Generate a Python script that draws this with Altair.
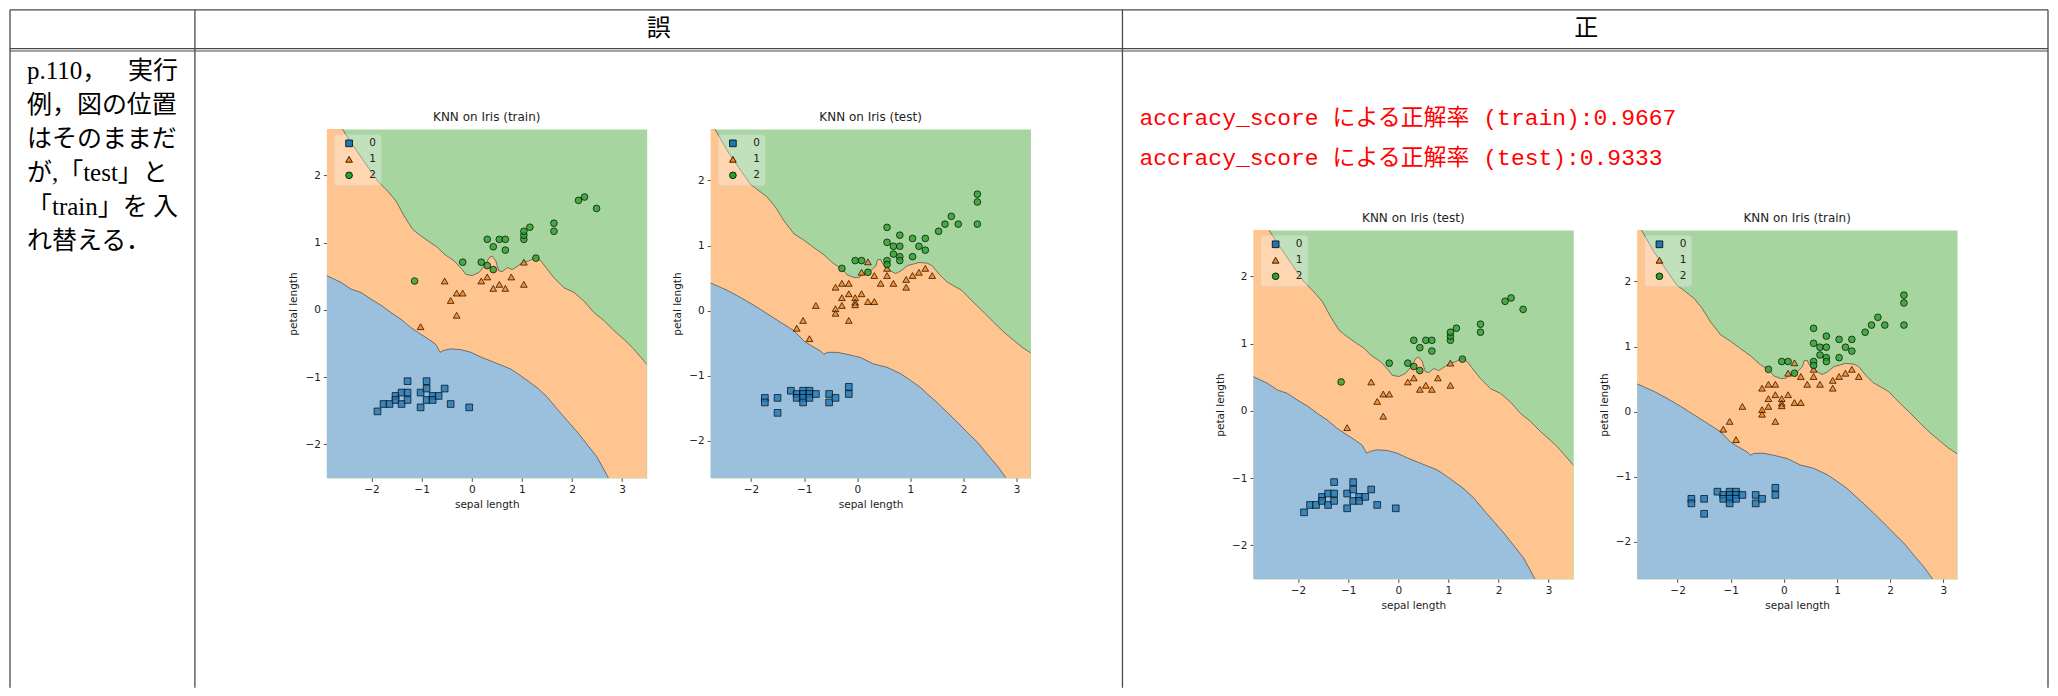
import altair as alt
import pandas as pd

# ---------------- text content ----------------
HEADERS = ["誤", "正"]
NOTE_LEFT = ["p.110，", "例，図の位置", "はそのままだ", "が,「test」と", "「train」を", "れ替える．"]
NOTE_RIGHT = ["実行", "", "", "", "入", ""]
SCORE_LINES = ["accracy_score による正解率 (train):0.9667",
               "accracy_score による正解率 (test):0.9333"]
PLOT_TITLES = ["KNN on Iris (train)", "KNN on Iris (test)",
               "KNN on Iris (test)", "KNN on Iris (train)"]
CLASSES = ["0", "1", "2"]
X_TICKS = [-2, -1, 0, 1, 2, 3]
Y_TICKS = [-2, -1, 0, 1, 2]

# ---------------- data set A (small set) ----------------
A0_X = [-1.88, -1.76, -1.64, -1.52, -1.52, -1.40, -1.40, -1.28, -1.28, -1.28, -1.02,
        -1.02, -0.90, -0.90, -0.90, -0.78, -0.78, -0.66, -0.54, -0.42, -0.05]
A0_Y = [-1.51, -1.40, -1.40, -1.28, -1.34, -1.23, -1.40, -1.06, -1.23, -1.34, -1.23,
        -1.45, -1.06, -1.17, -1.34, -1.28, -1.34, -1.28, -1.17, -1.40, -1.45]
A1_X = [-1.02, -0.54, -0.42, -0.30, -0.18, -0.30, 0.19, 0.31, 0.43, 0.55, 0.67, 0.79, 1.04, 1.04]
A1_Y = [-0.25, 0.43, 0.14, 0.25, 0.25, -0.08, 0.43, 0.49, 0.32, 0.38, 0.32, 0.49, 0.71, 0.38]
A2_X = [-1.14, -0.18, 0.19, 0.31, 0.43, 0.31, 0.43, 0.55, 0.67, 0.67, 1.04, 1.04, 1.04,
        1.16, 1.28, 1.64, 1.64, 2.13, 2.25, 2.49]
A2_Y = [0.43, 0.71, 0.71, 0.66, 0.60, 1.05, 0.94, 1.05, 1.05, 0.89, 1.05, 1.11, 1.17,
        1.23, 0.77, 1.29, 1.17, 1.63, 1.68, 1.51]
A_XDOM = [-2.89, 3.49]
A_YDOM = [-2.50, 2.69]
# decision boundaries (orange/green = B2, blue/orange = B1)
A_B2_X = [-2.95, -2.58, -2.38, -2.15, -1.88, -1.68, -1.51, -1.35, -1.18, -1.05, -0.88, -0.68,
          -0.55, -0.35, -0.19, -0.12, 0.01, 0.15, 0.28, 0.35, 0.41, 0.48, 0.54, 0.61, 0.71,
          0.81, 0.91, 1.01, 1.14, 1.28, 1.38, 1.51, 1.64, 1.84, 2.04, 2.24, 2.44, 2.64, 2.84,
          3.04, 3.23, 3.55]
A_B2_Y = [3.05, 2.69, 2.46, 2.21, 1.92, 1.77, 1.62, 1.40, 1.20, 1.12, 1.03, 0.93, 0.83, 0.73,
          0.60, 0.53, 0.51, 0.56, 0.68, 0.78, 0.80, 0.73, 0.58, 0.57, 0.63, 0.60, 0.65, 0.70,
          0.73, 0.78, 0.73, 0.60, 0.48, 0.33, 0.26, 0.13, -0.04, -0.16, -0.31, -0.44, -0.58,
          -0.86]
A_B1_X = [-2.95, -2.61, -2.41, -2.21, -2.01, -1.81, -1.61, -1.41, -1.22, -1.02, -0.85, -0.72,
          -0.63, -0.55, -0.42, -0.22, -0.02, 0.18, 0.38, 0.58, 0.78, 0.94, 1.11, 1.31, 1.51,
          1.71, 1.91, 2.11, 2.30, 2.50, 2.72, 3.00]
A_B1_Y = [0.53, 0.41, 0.31, 0.26, 0.16, 0.07, -0.04, -0.14, -0.26, -0.36, -0.44, -0.51, -0.63,
          -0.60, -0.58, -0.59, -0.63, -0.70, -0.76, -0.82, -0.88, -0.96, -1.05, -1.16, -1.30,
          -1.48, -1.65, -1.82, -2.00, -2.19, -2.49, -2.85]

# ---------------- data set B (large set) ----------------
B0_X = [-1.74, -1.74, -1.50, -1.50, -1.25, -1.14, -1.14, -1.02, -1.02, -1.02, -1.02, -0.90,
        -0.90, -0.90, -0.78, -0.53, -0.53, -0.41, -0.16, -0.16]
B0_Y = [-1.34, -1.41, -1.34, -1.57, -1.23, -1.28, -1.34, -1.23, -1.28, -1.34, -1.41, -1.23,
        -1.28, -1.34, -1.28, -1.28, -1.41, -1.34, -1.17, -1.28]
B1_X = [-1.14, -1.02, -0.90, -0.78, -0.41, -0.41, -0.41, -0.29, -0.29, -0.29, -0.16, -0.16,
        -0.16, -0.04, -0.04, -0.04, 0.08, 0.08, 0.20, 0.20, 0.32, 0.32, 0.44, 0.56, 0.56,
        0.68, 0.92, 0.92, 1.04, 1.16, 1.28, 1.41]
B1_Y = [-0.27, -0.15, -0.43, 0.08, 0.36, 0.03, -0.04, 0.42, 0.20, 0.08, 0.42, 0.26, -0.15,
        0.20, 0.13, 0.09, 0.26, 0.59, 0.75, 0.14, 0.54, 0.14, 0.42, 0.54, 0.65, 0.42, 0.48,
        0.36, 0.54, 0.59, 0.65, 0.54]
B2_X = [-0.29, -0.04, 0.08, 0.20, 0.56, 0.56, 0.56, 0.56, 0.68, 0.68, 0.80, 0.80, 0.80, 0.80,
        1.04, 1.04, 1.16, 1.28, 1.28, 1.53, 1.65, 1.77, 1.90, 2.26, 2.26, 2.26]
B2_Y = [0.65, 0.77, 0.77, 0.59, 1.28, 1.05, 0.77, 0.71, 0.99, 0.87, 1.16, 0.99, 0.83, 0.77,
        1.11, 0.83, 0.99, 1.11, 0.93, 1.22, 1.33, 1.45, 1.33, 1.79, 1.67, 1.33]
B_XDOM = [-2.76, 3.26]
B_YDOM = [-2.57, 2.79]
B_B2_X = [-2.82, -2.68, -2.44, -2.19, -2.01, -1.91, -1.69, -1.54, -1.38, -1.19, -1.00, -0.82,
          -0.63, -0.44, -0.28, -0.19, -0.06, 0.03, 0.13, 0.25, 0.35, 0.38, 0.44, 0.47, 0.63,
          0.72, 0.82, 0.94, 1.07, 1.16, 1.32, 1.41, 1.54, 1.69, 1.82, 1.97, 2.16, 2.35, 2.57,
          2.76, 2.95, 3.10, 3.30]
B_B2_Y = [2.95, 2.79, 2.45, 2.15, 1.94, 1.88, 1.74, 1.59, 1.38, 1.18, 1.08, 0.97, 0.86, 0.72,
          0.64, 0.55, 0.51, 0.51, 0.57, 0.61, 0.69, 0.78, 0.79, 0.73, 0.61, 0.57, 0.61, 0.69,
          0.72, 0.74, 0.73, 0.69, 0.56, 0.44, 0.38, 0.31, 0.15, 0.00, -0.18, -0.33, -0.46,
          -0.56, -0.67]
B_B1_X = [-2.80, -2.44, -2.19, -1.94, -1.69, -1.44, -1.19, -1.00, -0.82, -0.69, -0.63, -0.56,
          -0.38, -0.19, 0.06, 0.31, 0.56, 0.82, 1.00, 1.19, 1.32, 1.50, 1.69, 1.88, 2.07,
          2.26, 2.44, 2.63, 2.79, 3.00]
B_B1_Y = [0.44, 0.31, 0.20, 0.08, -0.05, -0.18, -0.31, -0.47, -0.56, -0.62, -0.67, -0.64,
          -0.64, -0.67, -0.72, -0.82, -0.87, -0.97, -1.07, -1.18, -1.28, -1.41, -1.56, -1.71,
          -1.87, -2.02, -2.20, -2.38, -2.56, -2.80]

# ---------------- styles ----------------
MARK_COLORS = ["#1f77b4", "#ff7f0e", "#2ca02c"]
MARK_SHAPES = ["square", "triangle-up", "circle"]
BG_BLUE = "#9bc0dd"
BG_ORANGE = "#ffc591"
BG_GREEN = "#a7d5a0"
EDGE = "#333333"
LINE = "#4a4a4a"
PLOT_W, PLOT_H = 320, 349

one = pd.DataFrame({"k": [0]})


def pts_df(xs_list, ys_list):
    rows = []
    for c, xs, ys in zip(CLASSES, xs_list, ys_list):
        for x, y in zip(xs, ys):
            rows.append({"x": x, "y": y, "cls": c})
    return pd.DataFrame(rows)


def make_plot(pts, b1x, b1y, b2x, b2y, xdom, ydom, title):
    xs = alt.Scale(domain=xdom, nice=False, zero=False)
    ys = alt.Scale(domain=ydom, nice=False, zero=False)
    X = alt.X("x:Q", scale=xs, axis=alt.Axis(values=X_TICKS, title="sepal length"))
    Y = alt.Y("y:Q", scale=ys, axis=alt.Axis(values=Y_TICKS, title="petal length"))
    b2 = pd.DataFrame({"x": b2x, "y": b2y})
    b1 = pd.DataFrame({"x": b1x, "y": b1y})
    orange = alt.Chart(b2).mark_area(color=BG_ORANGE, clip=True).encode(
        x=X, y=Y, y2=alt.datum(ydom[0]))
    blue = alt.Chart(b1).mark_area(color=BG_BLUE, clip=True).encode(
        x=X, y=Y, y2=alt.datum(ydom[0]))
    l2 = alt.Chart(b2).mark_line(color=EDGE, strokeWidth=0.6, clip=True).encode(x=X, y=Y)
    l1 = alt.Chart(b1).mark_line(color=EDGE, strokeWidth=0.6, clip=True).encode(x=X, y=Y)
    leg = alt.Legend(title=None, orient="none", legendX=7, legendY=5,
                     fillColor="rgba(255,255,255,0.3)", strokeColor="rgba(204,204,204,0.35)",
                     cornerRadius=3, padding=4, symbolOffset=6, rowPadding=5,
                     labelOffset=15, labelFont="DejaVu Sans", labelFontSize=10.5,
                     labelColor="#222", symbolSize=45, symbolStrokeWidth=0.8)
    points = alt.Chart(pts).mark_point(
        filled=True, size=45, opacity=1, fillOpacity=0.8, stroke="black",
        strokeWidth=0.8, strokeOpacity=0.85).encode(
        x=X, y=Y,
        fill=alt.Fill("cls:N", scale=alt.Scale(domain=CLASSES, range=MARK_COLORS), legend=leg),
        shape=alt.Shape("cls:N", scale=alt.Scale(domain=CLASSES, range=MARK_SHAPES), legend=leg),
    )
    return alt.layer(orange, blue, l2, l1, points).properties(
        width=PLOT_W, height=PLOT_H, title=title,
        view=alt.ViewBackground(fill=BG_GREEN, stroke="transparent"))


def spacer(w, h):
    # invisible, tiny mark kept well inside positive coordinates
    return alt.Chart(one).mark_point(opacity=0, size=1).encode(
        x=alt.value(4), y=alt.value(4)).properties(width=w, height=h)


def hline(y, x1, x2, w=1.3):
    return alt.Chart(one).mark_rule(color=LINE, strokeWidth=w).encode(
        x=alt.value(x1), x2=alt.value(x2), y=alt.value(y))


def vline(x, y1, y2, w=1.3):
    return alt.Chart(one).mark_rule(color=LINE, strokeWidth=w).encode(
        x=alt.value(x), y=alt.value(y1), y2=alt.value(y2))


def txt(s, x, y, size, font, color="black", align="left"):
    return alt.Chart(one).mark_text(text=s, align=align, baseline="middle", fontSize=size,
                                    font=font, color=color).encode(
        x=alt.value(x), y=alt.value(y))


SERIF_JP = "Liberation Serif, Noto Sans CJK JP"
MONO_JP = "Liberation Mono, Noto Sans CJK JP"

BOTTOM = 679
RIGHT = 2040
table_layers = [
    hline(0.7, 1, RIGHT), hline(39.5, 1, RIGHT, 1.1), hline(41.8, 1, RIGHT, 1.1),
    vline(1, 0.7, BOTTOM), vline(186, 0.7, BOTTOM), vline(1114, 0.7, BOTTOM),
    vline(RIGHT, 0.7, BOTTOM),
    txt(HEADERS[0], 650, 20, 24, "Noto Sans CJK JP", align="center"),
    txt(HEADERS[1], 1578, 20, 24, "Noto Sans CJK JP", align="center"),
]
line_y = [62, 96, 130, 164, 198, 232]
for s, r, y in zip(NOTE_LEFT, NOTE_RIGHT, line_y):
    table_layers.append(txt(s, 18, y, 25, SERIF_JP))
    if r:
        table_layers.append(txt(r, 169, y, 25, SERIF_JP, align="right"))
for s, y in zip(SCORE_LINES, [109, 149]):
    table_layers.append(txt(s, 1131, y, 23, MONO_JP, color="#ff0000"))

table = alt.layer(*table_layers).properties(width=318, height=BOTTOM)

dfA = pts_df([A0_X, A1_X, A2_X], [A0_Y, A1_Y, A2_Y])
dfB = pts_df([B0_X, B1_X, B2_X], [B0_Y, B1_Y, B2_Y])

p1 = make_plot(dfA, A_B1_X, A_B1_Y, A_B2_X, A_B2_Y, A_XDOM, A_YDOM, PLOT_TITLES[0])
p2 = make_plot(dfB, B_B1_X, B_B1_Y, B_B2_X, B_B2_Y, B_XDOM, B_YDOM, PLOT_TITLES[1])
p3 = make_plot(dfA, A_B1_X, A_B1_Y, A_B2_X, A_B2_Y, A_XDOM, A_YDOM, PLOT_TITLES[2])
p4 = make_plot(dfB, B_B1_X, B_B1_Y, B_B2_X, B_B2_Y, B_XDOM, B_YDOM, PLOT_TITLES[3])


def column(top, plot):
    # nested concat columns take no width in a flush layout; the spacers that
    # follow them carry the plot width as well as the gap
    return alt.vconcat(spacer(PLOT_W, top), plot, spacing=0, bounds="flush").resolve_scale(
        fill="independent", shape="independent").resolve_legend(
        fill="independent", shape="independent")


chart = alt.hconcat(
    table, column(120, p1), spacer(PLOT_W + 64, 1), column(120, p2),
    spacer(PLOT_W + 223, 1), column(221, p3), spacer(PLOT_W + 64, 1), column(221, p4),
    spacing=0, bounds="flush",
).resolve_scale(fill="independent", shape="independent").resolve_legend(
    fill="independent", shape="independent"
).properties(padding=0).configure_view(stroke="transparent").configure_axis(
    domain=False, grid=False, tickSize=3.5, tickWidth=0.8, tickColor="#222",
    labelFont="DejaVu Sans", labelFontSize=10.5, labelColor="#222", labelPadding=3,
    titleFont="DejaVu Sans", titleFontSize=10.5, titleFontWeight="normal", titleColor="#222",
).configure_axisX(titlePadding=5).configure_axisY(titlePadding=6).configure_title(
    font="DejaVu Sans", fontSize=12, fontWeight="normal", color="#222", offset=5,
    anchor="middle")

chart.save("out.html", embed_options={"renderer": "svg", "actions": False})
